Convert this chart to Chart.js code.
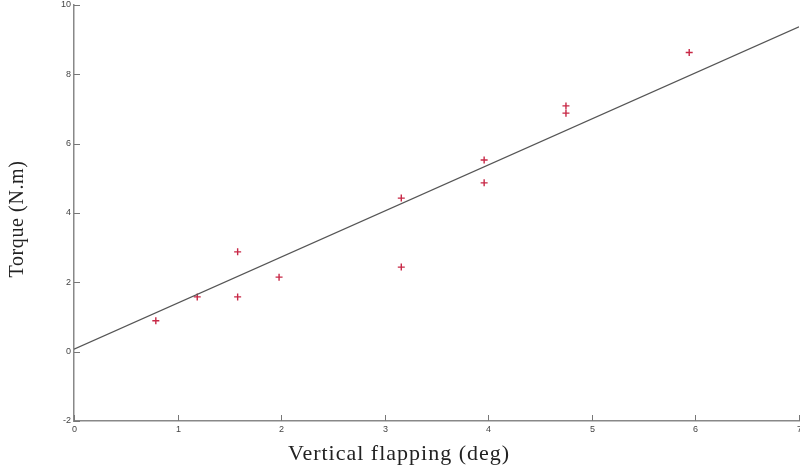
<!DOCTYPE html>
<html>
<head>
<meta charset="utf-8">
<script src="https://cdn.jsdelivr.net/npm/chart.js@4.4.1/dist/chart.umd.min.js"></script>
<style>
  html, body { margin: 0; padding: 0; background: #fff; }
  #wrap { width: 800px; height: 473px; position: relative; }
</style>
</head>
<body>
<div id="wrap"><canvas id="torqueChart"></canvas></div>
<script>
// measured points (flapping angle vs torque)
const flapDeg = [0.79, 1.19, 1.58, 1.58, 1.98, 3.16, 3.16, 3.96, 3.96, 4.75, 4.75, 5.94];
const torque = [0.89, 1.58, 2.88, 1.58, 2.15, 4.43, 2.44, 5.53, 4.87, 7.09, 6.88, 8.63];

// fitted line
const fitX = [0, 7];
const fitY = [0.07, 9.37];

const xTicks = [0, 1, 2, 3, 4, 5, 6, 7];
const yTicks = [-2, 0, 2, 4, 6, 8, 10];

const xTitle = 'Vertical flapping (deg)';
const yTitle = 'Torque (N.m)';

// inward tick marks, x tick labels, axis titles (matlab style)
const axisDecor = {
    id: 'axisDecor',
    afterDraw(chart) {
        const ctx = chart.ctx;
        const xs = chart.scales.x, ys = chart.scales.y;
        const area = chart.chartArea;
        ctx.save();
        ctx.strokeStyle = '#777';
        ctx.lineWidth = 1;
        ctx.fillStyle = '#444';
        ctx.font = '9px "Liberation Sans", Arial, sans-serif';
        ctx.textAlign = 'center';
        ctx.textBaseline = 'top';
        xTicks.forEach(v => {
            const px = Math.round(xs.getPixelForValue(v)) + 0.5;
            ctx.beginPath();
            ctx.moveTo(px, area.bottom);
            ctx.lineTo(px, area.bottom - 6);
            ctx.stroke();
            ctx.fillText(String(v), px, area.bottom + 4);
        });
        yTicks.forEach(v => {
            const py = Math.round(ys.getPixelForValue(v)) + 0.5;
            ctx.beginPath();
            ctx.moveTo(area.left, py);
            ctx.lineTo(area.left + 6, py);
            ctx.stroke();
        });

        ctx.fillStyle = '#222';
        ctx.textAlign = 'center';
        ctx.textBaseline = 'middle';
        ctx.font = '22px "Liberation Serif", serif';
        ctx.letterSpacing = '1px';
        ctx.fillText(xTitle, 399, 454);
        ctx.font = '20px "Liberation Serif", serif';
        ctx.letterSpacing = '0.6px';
        ctx.translate(18, 219);
        ctx.rotate(-Math.PI / 2);
        ctx.fillText(yTitle, 0, 0);
        ctx.restore();
    }
};

const ctx = document.getElementById('torqueChart').getContext('2d');
new Chart(ctx, {
    type: 'scatter',
    data: {
        datasets: [
            {
                type: 'line',
                label: 'fit',
                data: fitX.map((x, i) => ({ x: x, y: fitY[i] })),
                borderColor: '#555',
                borderWidth: 1.2,
                pointRadius: 0,
                fill: false,
                tension: 0
            },
            {
                label: 'measured',
                data: flapDeg.map((x, i) => ({ x: x, y: torque[i] })),
                pointStyle: 'cross',
                pointRadius: 3.5,
                borderColor: 'rgb(200, 40, 70)',
                borderWidth: 1.4,
                backgroundColor: 'rgb(200, 40, 70)'
            }
        ]
    },
    options: {
        responsive: true,
        maintainAspectRatio: false,
        animation: false,
        layout: { autoPadding: false, padding: { top: 5, right: 1, left: 0, bottom: 0 } },
        plugins: {
            legend: { display: false },
            tooltip: { enabled: false }
        },
        scales: {
            x: {
                type: 'linear',
                min: 0,
                max: 7,
                afterFit: s => { s.height = 52; },
                grid: { display: false, drawTicks: false },
                border: { display: true, color: '#888', width: 1.5 },
                ticks: { display: false }
            },
            y: {
                type: 'linear',
                min: -2,
                max: 10,
                afterFit: s => { s.width = 74; s.paddingTop = 0; s.paddingBottom = 0; },
                afterBuildTicks: s => { s.ticks = yTicks.map(v => ({ value: v })); },
                grid: { display: false, drawTicks: false },
                border: { display: true, color: '#888', width: 1.5 },
                ticks: {
                    padding: 3,
                    color: '#444',
                    font: { family: '"Liberation Sans", Arial, sans-serif', size: 9 }
                }
            }
        }
    },
    plugins: [axisDecor]
});
</script>
</body>
</html>
